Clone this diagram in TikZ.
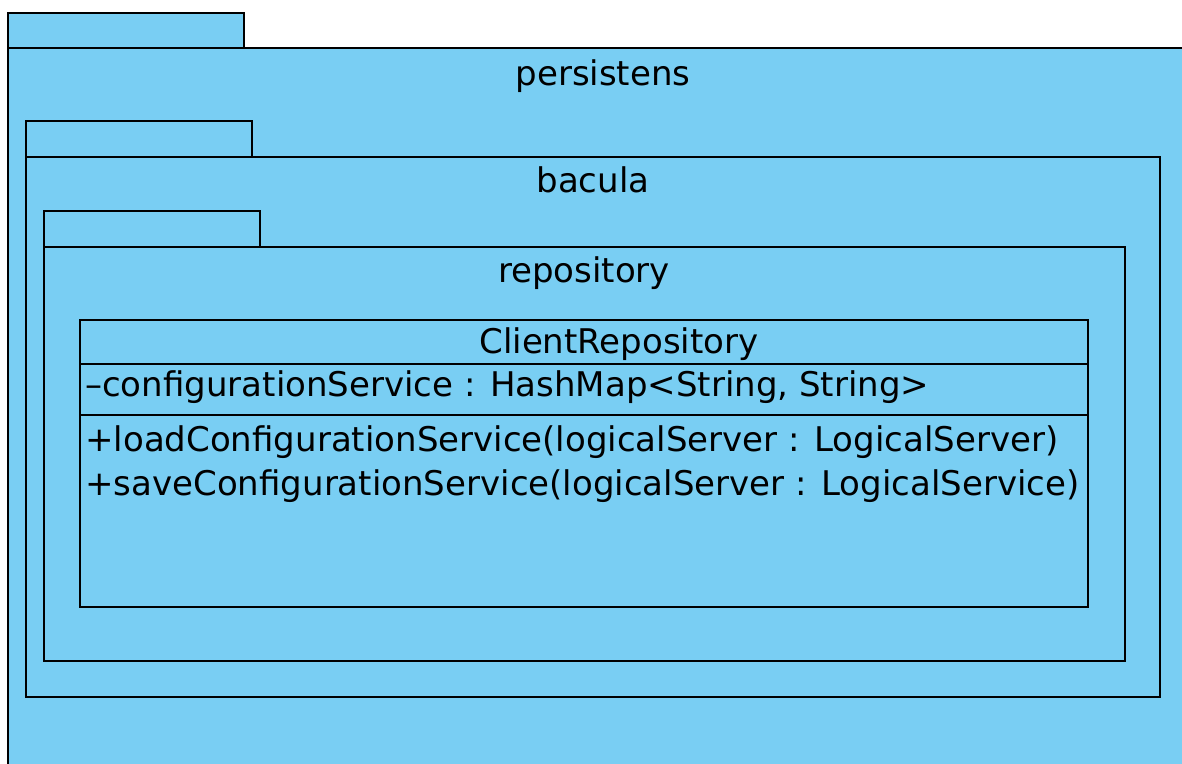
\documentclass[tikz,border=0pt]{standalone}
\usepackage{fontspec}
\setmainfont{DejaVu Sans}
\usetikzlibrary{calc,fit,positioning}
\definecolor{pkgblue}{RGB}{121,206,243}

\begin{document}
\begin{tikzpicture}[x=0.75pt,y=-0.75pt,
                    pkg/.style={draw=black,fill=pkgblue,line width=1.2pt},
                    pkg name/.style={font=\fontsize{25.5}{30}\selectfont,inner sep=0pt,anchor=base},
                    member/.style={font=\fontsize{25.5}{30}\selectfont,inner sep=0pt,anchor=base west}]

  \clip (0,0) rectangle (1182,764);
  \fill[white] (0,0) rectangle (1182,764);

  % persistens
  \draw[pkg] (8,13) rectangle (244,48);
  \draw[pkg] (8,48) rectangle (1200,800);
  \node[pkg name] (persistens) at (603,85) {persistens};

  % bacula
  \draw[pkg] (26,121) rectangle (252,157);
  \draw[pkg] (26,157) rectangle (1160,697);
  \node[pkg name] (bacula) at (593,192) {bacula};

  % repository
  \draw[pkg] (44,211) rectangle (260,247);
  \draw[pkg] (44,247) rectangle (1125,661);
  \node[pkg name] (repository) at (584,282) {repository};

  % ClientRepository
  \draw[pkg] (80,320) rectangle (1088,607);
  \draw[line width=1.2pt] (80,364) -- (1088,364);
  \draw[line width=1.2pt] (80,415) -- (1088,415);
  \node[pkg name] (ClientRepository) at (619,353) {ClientRepository};
  \node[member] (attr) at (85,396) {–configurationService : HashMap<String, String>};
  \node[member] (load) at (85,451) {+loadConfigurationService(logicalServer : LogicalServer)};
  \node[member] (save) at (85,495) {+saveConfigurationService(logicalServer : LogicalService)};

\end{tikzpicture}
\end{document}
